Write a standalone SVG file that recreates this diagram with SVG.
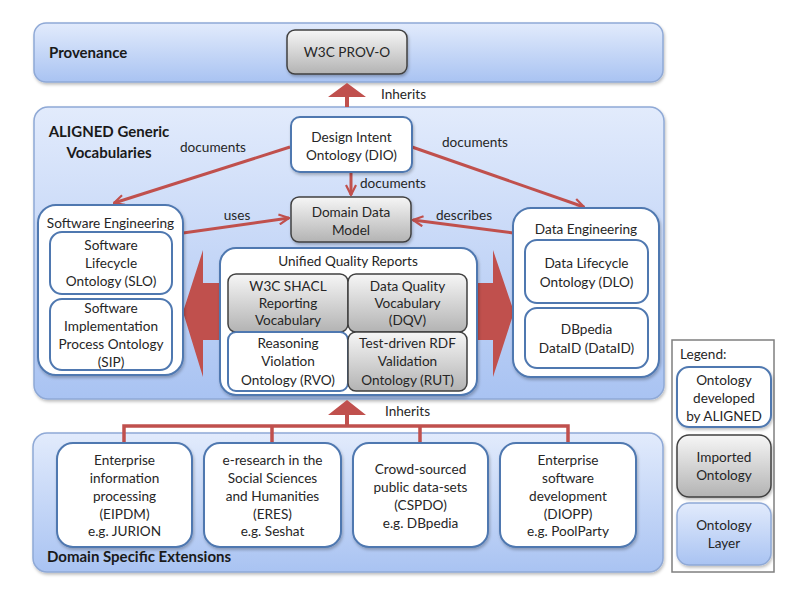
<svg xmlns="http://www.w3.org/2000/svg" width="800" height="592" viewBox="0 0 800 592">
<defs>
<linearGradient id="layerG" x1="0" y1="0" x2="0" y2="1">
<stop offset="0" stop-color="#e2ebfc"/><stop offset="1" stop-color="#a9c3f2"/>
</linearGradient>
<linearGradient id="grayG" x1="0" y1="0" x2="0" y2="1">
<stop offset="0" stop-color="#f6f6f6"/><stop offset="1" stop-color="#b3b3b3"/>
</linearGradient>
<filter id="sh" x="-10%" y="-10%" width="120%" height="130%">
<feDropShadow dx="1" dy="2" stdDeviation="1.5" flood-color="#000" flood-opacity="0.25"/>
</filter>
<marker id="ah" viewBox="0 0 12 12" refX="11" refY="6" markerWidth="12" markerHeight="12" markerUnits="userSpaceOnUse" orient="auto">
<path d="M1,1 L11,6 L1,11" fill="none" stroke="#c0504d" stroke-width="2.2"/>
</marker>
<style>
text{font-family:Lato,"Liberation Sans",sans-serif;font-size:13.6px;fill:#262626}
.c{text-anchor:middle}
.b{font-weight:bold;font-size:15px;fill:#1a1a1a}
.layer{fill:url(#layerG);stroke:#8fa9d6;stroke-width:1.5;filter:url(#sh)}
.node{fill:#fff;stroke:#4f78b0;stroke-width:2}
.imp{fill:url(#grayG);stroke:#404040;stroke-width:1.5}
.conn{fill:none;stroke:#c0504d;stroke-width:3;marker-end:url(#ah)}
.big{fill:#c0504d}
</style>
</defs>

<g id="layer-provenance">
<rect class="layer" x="34" y="23" width="629" height="59" rx="12"/>
<text class="b" x="49" y="58">Provenance</text>
</g>
<g id="layer-aligned">
<rect class="layer" x="34" y="107" width="630" height="292" rx="14"/>
<text class="b c" x="109" y="137">ALIGNED Generic</text>
<text class="b c" x="109" y="158">Vocabularies</text>
</g>
<g id="layer-domain">
<rect class="layer" x="33" y="433" width="630" height="139" rx="14"/>
<text class="b" x="47" y="562">Domain Specific Extensions</text>
</g>

<g id="connectors">
<path class="big" d="M345,107 L345,97 L328,97 L347,83 L366,97 L349,97 L349,107 Z"/>
<text x="381" y="99">Inherits</text>
<line class="conn" x1="290" y1="147" x2="114" y2="203"/>
<text class="c" x="213" y="152">documents</text>
<line class="conn" x1="412" y1="147" x2="584" y2="207"/>
<text class="c" x="475" y="147">documents</text>
<line class="conn" x1="351" y1="172" x2="351" y2="195"/>
<text x="360" y="188">documents</text>
<line class="conn" x1="183" y1="233" x2="289" y2="218"/>
<text class="c" x="237" y="220">uses</text>
<line class="conn" x1="513" y1="233" x2="413" y2="220"/>
<text class="c" x="464" y="220">describes</text>
<path class="big" d="M222,283 L203,283 L203,250 L183,312 L203,377 L203,340 L222,340 Z"/>
<path class="big" d="M474,283 L493,283 L493,250 L514,312 L493,377 L493,340 L474,340 Z"/>
<path class="big" d="M345,426 L345,415 L328,415 L347,400 L366,415 L349,415 L349,426 Z"/>
<text x="385" y="416">Inherits</text>
<path d="M124,444 L124,426 L568,426 L568,444 M272,426 L272,444 M420,426 L420,444" fill="none" stroke="#c0504d" stroke-width="3.5"/>
</g>

<g id="node-prov-o">
<rect class="imp" x="287" y="30" width="120" height="44" rx="8" filter="url(#sh)"/>
<text class="c" x="347" y="57">W3C PROV-O</text>
</g>
<g id="node-dio">
<rect class="node" x="291" y="117" width="121" height="55" rx="9" filter="url(#sh)"/>
<text class="c" x="351.5" y="142">Design Intent</text>
<text class="c" x="351.5" y="160">Ontology (DIO)</text>
</g>
<g id="node-ddm">
<rect class="imp" x="291" y="197" width="120" height="45" rx="8" filter="url(#sh)"/>
<text class="c" x="351" y="217">Domain Data</text>
<text class="c" x="351" y="235">Model</text>
</g>
<g id="node-uqr">
<rect class="node" x="220" y="248" width="257" height="147" rx="16" filter="url(#sh)"/>
<text class="c" x="348" y="266">Unified Quality Reports</text>
</g>
<g id="node-shacl">
<rect class="imp" x="228" y="274" width="120" height="58" rx="8"/>
<text class="c" x="288" y="291">W3C SHACL</text>
<text class="c" x="288" y="308">Reporting</text>
<text class="c" x="288" y="325">Vocabulary</text>
</g>
<g id="node-dqv">
<rect class="imp" x="348" y="274" width="119" height="58" rx="8"/>
<text class="c" x="407.5" y="291">Data Quality</text>
<text class="c" x="407.5" y="308">Vocabulary</text>
<text class="c" x="407.5" y="325">(DQV)</text>
</g>
<g id="node-rvo">
<rect class="node" x="228" y="332" width="120" height="59" rx="8"/>
<text class="c" x="288" y="348">Reasoning</text>
<text class="c" x="288" y="366">Violation</text>
<text class="c" x="288" y="385">Ontology (RVO)</text>
</g>
<g id="node-rut">
<rect class="imp" x="348" y="332" width="119" height="59" rx="8"/>
<text class="c" x="407.5" y="348">Test-driven RDF</text>
<text class="c" x="407.5" y="366">Validation</text>
<text class="c" x="407.5" y="385">Ontology (RUT)</text>
</g>
<g id="node-se">
<rect class="node" x="38" y="205" width="145" height="170" rx="18" filter="url(#sh)"/>
<text class="c" x="110.5" y="228">Software Engineering</text>
</g>
<g id="node-slo">
<rect class="node" x="50" y="232" width="122" height="62" rx="12"/>
<text class="c" x="111" y="250">Software</text>
<text class="c" x="111" y="268">Lifecycle</text>
<text class="c" x="111" y="286">Ontology (SLO)</text>
</g>
<g id="node-sip">
<rect class="node" x="50" y="299" width="122" height="71" rx="12"/>
<text class="c" x="111" y="313">Software</text>
<text class="c" x="111" y="331">Implementation</text>
<text class="c" x="111" y="349">Process Ontology</text>
<text class="c" x="111" y="367">(SIP)</text>
</g>
<g id="node-de">
<rect class="node" x="513" y="208" width="146" height="169" rx="18" filter="url(#sh)"/>
<text class="c" x="586" y="234">Data Engineering</text>
</g>
<g id="node-dlo">
<rect class="node" x="525" y="240" width="123" height="63" rx="12"/>
<text class="c" x="586.5" y="268">Data Lifecycle</text>
<text class="c" x="586.5" y="287">Ontology (DLO)</text>
</g>
<g id="node-dataid">
<rect class="node" x="525" y="308" width="123" height="60" rx="12"/>
<text class="c" x="586.5" y="334">DBpedia</text>
<text class="c" x="586.5" y="353">DataID (DataID)</text>
</g>
<g id="node-eipdm">
<rect class="node" x="57" y="443" width="135" height="104" rx="16" filter="url(#sh)"/>
<text class="c" x="124.5" y="465">Enterprise</text>
<text class="c" x="124.5" y="483">information</text>
<text class="c" x="124.5" y="501">processing</text>
<text class="c" x="124.5" y="519">(EIPDM)</text>
<text class="c" x="124.5" y="536">e.g. JURION</text>
</g>
<g id="node-eres">
<rect class="node" x="204" y="443" width="137" height="104" rx="16" filter="url(#sh)"/>
<text class="c" x="272.5" y="465">e-research in the</text>
<text class="c" x="272.5" y="483">Social Sciences</text>
<text class="c" x="272.5" y="501">and Humanities</text>
<text class="c" x="272.5" y="519">(ERES)</text>
<text class="c" x="272.5" y="536">e.g. Seshat</text>
</g>
<g id="node-cspdo">
<rect class="node" x="353" y="443" width="135" height="104" rx="16" filter="url(#sh)"/>
<text class="c" x="420.5" y="474">Crowd-sourced</text>
<text class="c" x="420.5" y="492">public data-sets</text>
<text class="c" x="420.5" y="510">(CSPDO)</text>
<text class="c" x="420.5" y="528">e.g. DBpedia</text>
</g>
<g id="node-diopp">
<rect class="node" x="500" y="443" width="136" height="104" rx="16" filter="url(#sh)"/>
<text class="c" x="568" y="465">Enterprise</text>
<text class="c" x="568" y="483">software</text>
<text class="c" x="568" y="501">development</text>
<text class="c" x="568" y="519">(DIOPP)</text>
<text class="c" x="568" y="536">e.g. PoolParty</text>
</g>

<g id="legend">
<rect x="672" y="340" width="102" height="232" fill="#fff" stroke="#7f7f7f" stroke-width="1.5"/>
<text x="680" y="359">Legend:</text>
<rect class="node" x="677" y="367" width="94" height="60" rx="12" filter="url(#sh)"/>
<text class="c" x="724" y="385">Ontology</text>
<text class="c" x="724" y="403">developed</text>
<text class="c" x="724" y="421">by ALIGNED</text>
<rect class="imp" x="677" y="435" width="94" height="62" rx="12" filter="url(#sh)"/>
<text class="c" x="724" y="462">Imported</text>
<text class="c" x="724" y="480">Ontology</text>
<rect x="677" y="503" width="94" height="62" rx="12" fill="url(#layerG)" stroke="#8fa9d6" stroke-width="1.5" filter="url(#sh)"/>
<text class="c" x="724" y="530">Ontology</text>
<text class="c" x="724" y="548">Layer</text>
</g>
</svg>
